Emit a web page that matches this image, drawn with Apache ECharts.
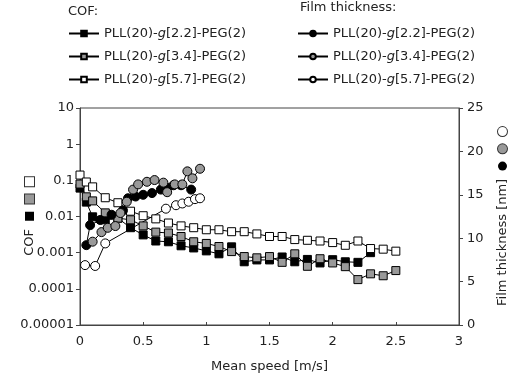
<!DOCTYPE html>
<html>
<head>
<meta charset="utf-8">
<script src="https://cdn.jsdelivr.net/npm/echarts@6/dist/echarts.min.js"></script>
<style>
  html, body { margin: 0; padding: 0; background: #fff; }
  #myChart { width: 511px; height: 376px; }
</style>
</head>
<body>
<div id="myChart"></div>
<script>
// COF, mean speed [m/s] -> friction coefficient
var cofSpeed = [0, 0.05, 0.1, 0.2, 0.3, 0.4, 0.5, 0.6, 0.7, 0.8, 0.9, 1.0, 1.1, 1.2, 1.3,
                1.4, 1.5, 1.6, 1.7, 1.8, 1.9, 2.0, 2.1, 2.2, 2.3, 2.4, 2.5];
var cof22 = [0.061, 0.025, 0.0098, 0.0081, 0.009, 0.0049, 0.0031, 0.0021, 0.002, 0.00155, 0.00135,
             0.00112, 0.00093, 0.00145, 0.00056, 0.00063, 0.00063, 0.00076, 0.00056, 0.00065,
             0.00052, 0.00064, 0.00056, 0.00054, 0.001];
var cof34 = [0.079, 0.035, 0.027, 0.0126, 0.009, 0.0081, 0.0055, 0.0037, 0.0035, 0.0028, 0.002,
             0.0018, 0.00148, 0.00107, 0.00078, 0.00072, 0.00078, 0.00054, 0.00093, 0.00042,
             0.00068, 0.00052, 0.00041, 0.00018, 0.00026, 0.00023, 0.00032];
var cof57 = [0.14, 0.09, 0.066, 0.033, 0.024, 0.014, 0.0105, 0.0086, 0.0066, 0.0055, 0.0049,
             0.0043, 0.0043, 0.0038, 0.0038, 0.0033, 0.0028, 0.0028, 0.0023, 0.0022, 0.0021,
             0.0019, 0.0016, 0.0021, 0.0013, 0.00125, 0.0011];

// film thickness [nm]
var ft22Speed = [0.05, 0.08, 0.16, 0.25, 0.34, 0.38, 0.44, 0.5, 0.57, 0.64, 0.69, 0.74, 0.8, 0.88];
var ft22 = [9.2, 11.5, 12.1, 12.7, 13.2, 14.6, 14.8, 15.0, 15.2, 15.6, 15.8, 16.1, 16.1, 15.6];
var ft34Speed = [0.1, 0.17, 0.22, 0.28, 0.32, 0.37, 0.42, 0.46, 0.53, 0.59, 0.66, 0.69, 0.75,
                 0.81, 0.85, 0.89, 0.95];
var ft34 = [9.6, 10.7, 11.2, 11.4, 12.9, 14.2, 15.6, 16.2, 16.5, 16.7, 16.4, 15.3, 16.2, 16.2,
            17.7, 16.9, 18.0];
var ft57Speed = [0.04, 0.12, 0.2, 0.68, 0.76, 0.81, 0.86, 0.91, 0.95];
var ft57 = [6.9, 6.8, 9.4, 13.4, 13.8, 14.0, 14.2, 14.5, 14.6];

var cofTickLabels = ['0.00001', '0.0001', '0.001', '0.01', '0.1', '1', '10'];
var legendNames = {
  cof22: 'PLL(20)-{i|g}[2.2]-PEG(2)', cof34: 'PLL(20)-{i|g}[3.4]-PEG(2)', cof57: 'PLL(20)-{i|g}[5.7]-PEG(2)',
  ft22: 'PLL(20)-{i|g}[2.2]-PEG(2)', ft34: 'PLL(20)-{i|g}[3.4]-PEG(2)', ft57: 'PLL(20)-{i|g}[5.7]-PEG(2)'
};

function pairs(xs, ys) {
  var out = [];
  for (var i = 0; i < ys.length; i++) out.push([xs[i], ys[i]]);
  return out;
}

var FONT = 'DejaVu Sans';
var txt = { fontFamily: FONT, fontSize: 13, color: '#222' };

function mk(name, data, symbol, size, fill, yIdx) {
  return {
    name: name, type: 'line', data: data, yAxisIndex: yIdx,
    symbol: symbol, symbolSize: size, showSymbol: true,
    lineStyle: { color: '#000', width: 1 },
    itemStyle: { color: fill, borderColor: '#000', borderWidth: 1 },
    emphasis: { disabled: true }
  };
}

var legendText = {
  fontFamily: FONT, fontSize: 13, color: '#222',
  rich: { i: { fontFamily: FONT, fontSize: 13, fontStyle: 'italic', color: '#222' } }
};

var myChart = echarts.init(document.getElementById('myChart'));
var option = {
  animation: false,
  grid: {
    left: 80, right: 52, top: 108, bottom: 51, outerBoundsMode: 'none', containLabel: false,
    show: true, borderColor: '#444', borderWidth: 1
  },
  graphic: [
    { type: 'text', left: 68, top: 5, style: { text: 'COF:', font: '13px "DejaVu Sans"', fill: '#222' } },
    { type: 'text', left: 300, top: 1, style: { text: 'Film thickness:', font: '13px "DejaVu Sans"', fill: '#222' } }
  ],
  legend: [
    {
      data: ['cof22', 'cof34', 'cof57'], orient: 'vertical', left: 63, top: 22,
      itemWidth: 30, itemHeight: 7, itemGap: 10, selectedMode: false,
      lineStyle: { width: 2 },
      formatter: function (n) { return legendNames[n]; }, textStyle: legendText
    },
    {
      data: ['ft22', 'ft34', 'ft57'], orient: 'vertical', left: 292, top: 22,
      itemWidth: 30, itemHeight: 7, itemGap: 10, selectedMode: false,
      lineStyle: { width: 2 },
      formatter: function (n) { return legendNames[n]; }, textStyle: legendText
    }
  ],
  xAxis: {
    type: 'value', min: 0, max: 3, interval: 0.5,
    name: 'Mean speed [m/s]', nameLocation: 'middle', nameGap: 35, nameTextStyle: txt,
    axisLine: { lineStyle: { color: '#444' } },
    axisTick: { inside: true, length: 3, lineStyle: { color: '#444' } },
    axisLabel: Object.assign({ margin: 10 }, txt),
    splitLine: { show: false }
  },
  yAxis: [
    {
      type: 'log', logBase: 10, min: 0.00001, max: 10, position: 'left',
      name: 'COF  {sb|}  {sg|}  {sw|}', nameLocation: 'middle', nameRotate: 90, nameGap: 44,
      nameMoveOverlap: false,
      nameTextStyle: {
        fontFamily: FONT, fontSize: 13, color: '#222',
        rich: {
          sb: { width: 9, height: 9, backgroundColor: '#000' },
          sg: { width: 9, height: 9, backgroundColor: '#999', borderColor: '#333', borderWidth: 1 },
          sw: { width: 9, height: 9, backgroundColor: '#fff', borderColor: '#333', borderWidth: 1 }
        }
      },
      axisLine: { show: true, lineStyle: { color: '#444' } },
      axisTick: { show: true, length: 4, lineStyle: { color: '#444' } },
      axisLabel: Object.assign({ margin: 6, formatter: function (v) {
        return cofTickLabels[Math.round(Math.log10(v)) + 5];
      } }, txt),
      splitLine: { show: false }, minorTick: { show: false }
    },
    {
      type: 'value', min: 0, max: 25, interval: 5, position: 'right',
      name: 'Film thickness [nm]  {cb|}  {cg|}  {cw|}', nameLocation: 'middle', nameRotate: 90, nameGap: 37,
      nameTextStyle: {
        fontFamily: FONT, fontSize: 13, color: '#222',
        rich: {
          cb: { width: 9, height: 9, backgroundColor: '#000', borderRadius: 5 },
          cg: { width: 9, height: 9, backgroundColor: '#999', borderColor: '#333', borderWidth: 1, borderRadius: 5 },
          cw: { width: 9, height: 9, backgroundColor: '#fff', borderColor: '#333', borderWidth: 1, borderRadius: 5 }
        }
      },
      axisLine: { show: true, lineStyle: { color: '#444' } },
      axisTick: { show: true, length: 4, lineStyle: { color: '#444' } },
      axisLabel: Object.assign({ margin: 8 }, txt),
      splitLine: { show: false }
    }
  ],
  series: [
    mk('cof22', pairs(cofSpeed, cof22), 'rect', 8, '#000', 0),
    mk('cof34', pairs(cofSpeed, cof34), 'rect', 8, '#999', 0),
    mk('cof57', pairs(cofSpeed, cof57), 'rect', 8, '#fff', 0),
    mk('ft22', pairs(ft22Speed, ft22), 'circle', 9, '#000', 1),
    mk('ft34', pairs(ft34Speed, ft34), 'circle', 9, '#999', 1),
    mk('ft57', pairs(ft57Speed, ft57), 'circle', 9, '#fff', 1)
  ]
};
myChart.setOption(option);
</script>
</body>
</html>
